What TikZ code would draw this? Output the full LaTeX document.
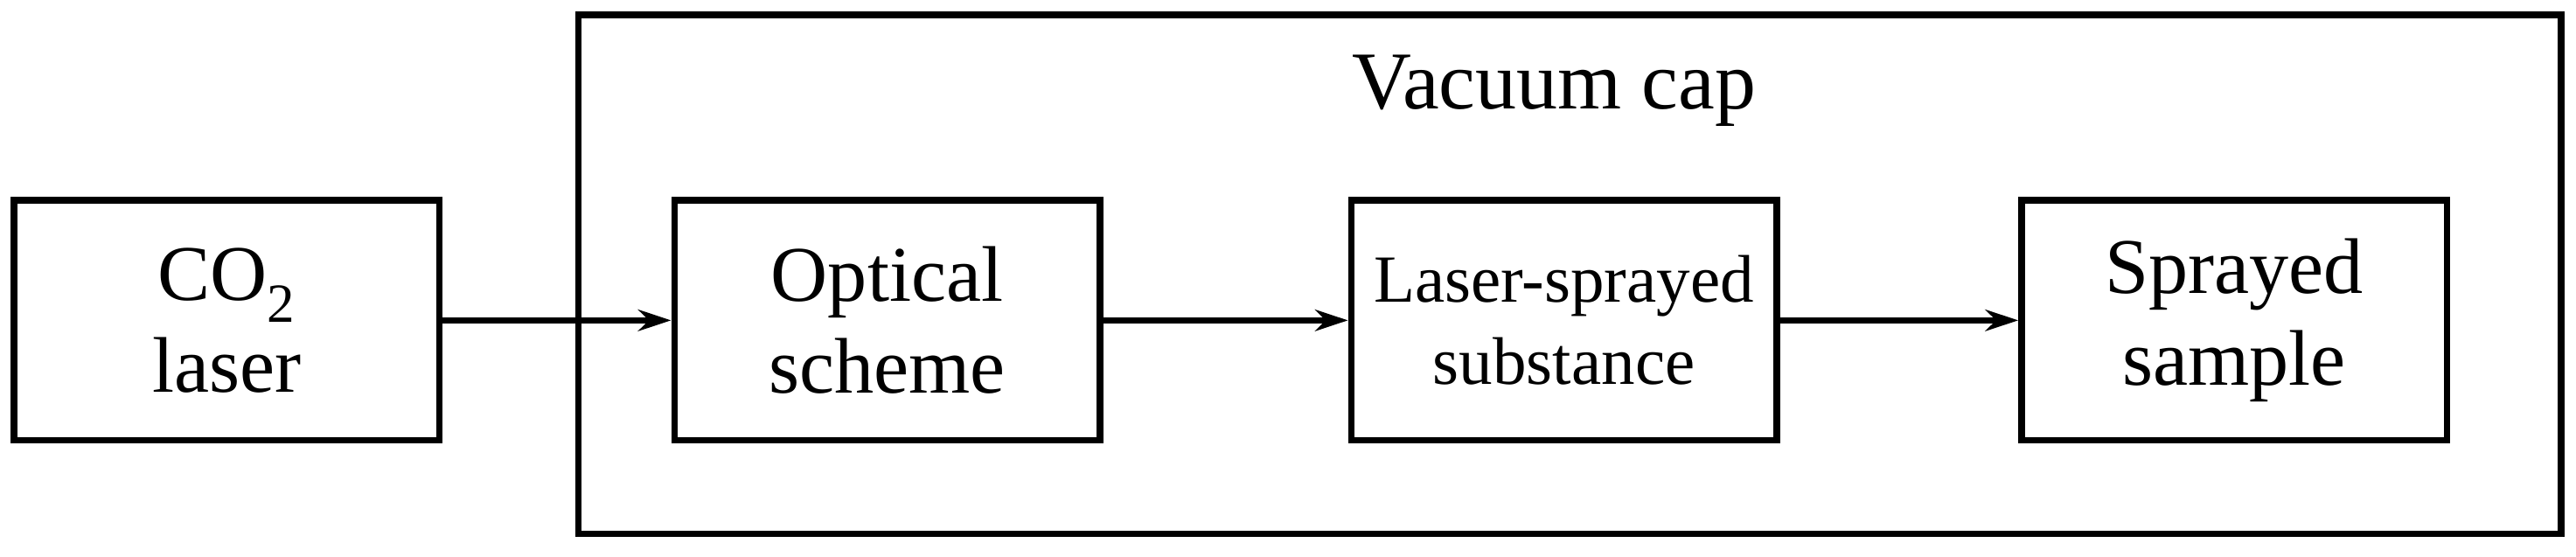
\documentclass[tikz,border=0pt]{standalone}
\usepackage{fontspec}
\setmainfont{Liberation Serif}
\usetikzlibrary{arrows.meta}
\begin{document}
\begin{tikzpicture}[x=1pt,y=-1pt,
  box/.style={draw,line width=4pt,minimum width=259pt,minimum height=146pt,align=center,font=\fontsize{48}{56}\selectfont,inner sep=0pt},
  arr/.style={line width=3.5pt,-{Stealth[length=20pt,width=13pt]}}]
\useasboundingbox (0,0) rectangle (1568,339);
\draw[line width=4pt] (352,9) rectangle (1559,325);
\node[font=\fontsize{50}{56}\selectfont] (vc) at (946,55) {Vacuum cap};
\node[box] (co2) at (138,195) {CO\textsubscript{2}\\laser};
\node[box] (opt) at (540,195) {Optical\\scheme};
\node[box,font=\fontsize{41}{50}\selectfont] (ls) at (952,195) {Laser-sprayed\\substance};
\node[box] (ss) at (1360,195) {Sprayed\\sample};
\draw[arr] (co2) -- (opt);
\draw[arr] (opt) -- (ls);
\draw[arr] (ls) -- (ss);
\end{tikzpicture}
\end{document}
